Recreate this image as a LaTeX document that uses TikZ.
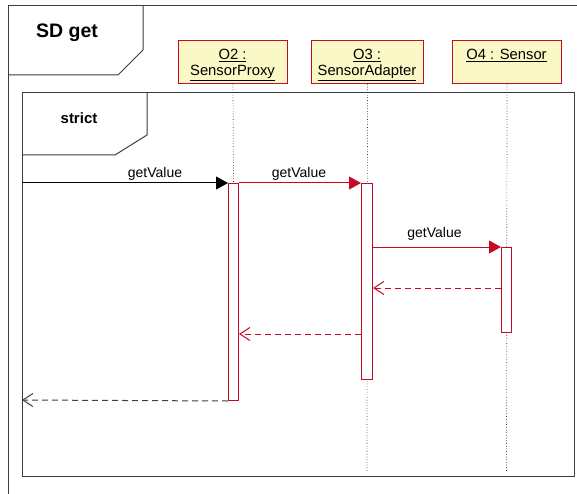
\documentclass[tikz,border=0pt]{standalone}
\usepackage{fontspec}
\setmainfont{Liberation Sans}
\usetikzlibrary{arrows.meta}
\definecolor{umlred}{RGB}{196,10,36}
\definecolor{umlfill}{RGB}{250,248,196}
\definecolor{framegray}{RGB}{60,60,60}
\begin{document}
\begin{tikzpicture}[x=1pt,y=-1pt,
  lbl/.style={font=\fontsize{14}{16}\selectfont, inner sep=0pt, anchor=base},
  boxlbl/.style={font=\fontsize{14.8}{17}\selectfont, inner sep=0pt, anchor=base},
  objbox/.style={draw=umlred, fill=umlfill, line width=1pt, minimum width=109pt, minimum height=43pt, anchor=north west, inner sep=0pt},
  actbar/.style={draw=umlred, fill=white, line width=1pt, minimum width=10pt, anchor=north west, inner sep=0pt},
  lifeline/.style={draw=black!80, line width=0.7pt, dotted},
  framebox/.style={draw=framegray, line width=1pt},
  callred/.style={draw=umlred, line width=1pt, -{Triangle[length=12pt,width=13pt]}},
  callblack/.style={draw=black, line width=1pt, -{Triangle[length=12pt,width=13pt]}},
  retred/.style={draw=umlred, line width=1pt, dash pattern=on 6pt off 4pt, -{Straight Barb[length=10pt,width=13pt]}},
  retblack/.style={draw=black!75, line width=1pt, dash pattern=on 6pt off 4pt, -{Straight Barb[length=10pt,width=13pt]}}
]
\useasboundingbox (0,0) rectangle (577,494);
\clip (0,0) rectangle (577,494);
\fill[white] (0,0) rectangle (577,494);

% outer frame
\draw[framebox] (8,6) rectangle (600,520);
\draw[framebox] (143,6) -- (143,50) -- (118,75) -- (8,75);
\node[lbl, font=\fontsize{19.5}{22}\selectfont\bfseries] (sdget) at (67,38) {SD get};

% inner frame
\draw[framebox] (22,92.5) rectangle (574.5,476);
\draw[framebox] (147,92.5) -- (147,135) -- (115,155) -- (22,155);
\node[lbl, font=\fontsize{15}{17}\selectfont\bfseries] (strict) at (79,124) {strict};

% object boxes
\node[objbox] (o2) at (178,40) {};
\node[objbox, minimum width=112pt] (o3) at (311,40) {};
\node[objbox] (o4) at (452,40) {};
\node[boxlbl] (o2a) at (232.5,59.5) {\underline{O2 :}};
\node[boxlbl] (o2b) at (232.5,75.5) {\underline{SensorProxy}};
\node[boxlbl] (o3a) at (367,59.5) {\underline{O3 :}};
\node[boxlbl] (o3b) at (367,75.5) {\underline{SensorAdapter}};
\node[boxlbl] (o4a) at (506.5,59.5) {\underline{O4 : Sensor}};

% lifeline ends
\coordinate (e3) at (367,472);
\coordinate (e4) at (506.5,472);

% activation bars (lifelines first)
\node[actbar, minimum height=217pt] (a2) at (228,183) {};
\draw[lifeline] (o2.south) -- (a2.north);
\draw[lifeline] (o3.south) -- (e3);
\draw[lifeline] (o4.south) -- (e4);
\node[actbar, minimum height=196pt, minimum width=11pt] (a3) at (361,183) {};
\node[actbar, minimum height=85pt] (a4) at (501,247) {};

% messages
\coordinate (s1) at (22,183);
\coordinate (r1) at (22,400);
\draw[callblack] (s1) -- (a2.north west);
\node[lbl] (m1) at (155,178) {getValue};

\draw[callred] (a2.north east) -- (a3.north west);
\node[lbl] (m2) at (299,178) {getValue};

\draw[callred] (a3.east |- a4.north west) -- (a4.north west);
\node[lbl] (m3) at (434.5,237) {getValue};

\coordinate (y4) at (0,288);
\coordinate (y5) at (0,334);
\draw[retred] (a4.west |- y4) -- (a3.east |- y4);
\draw[retred] (a3.west |- y5) -- (a2.east |- y5);
\draw[retblack] (a2.south west) -- (r1);
\end{tikzpicture}
\end{document}
